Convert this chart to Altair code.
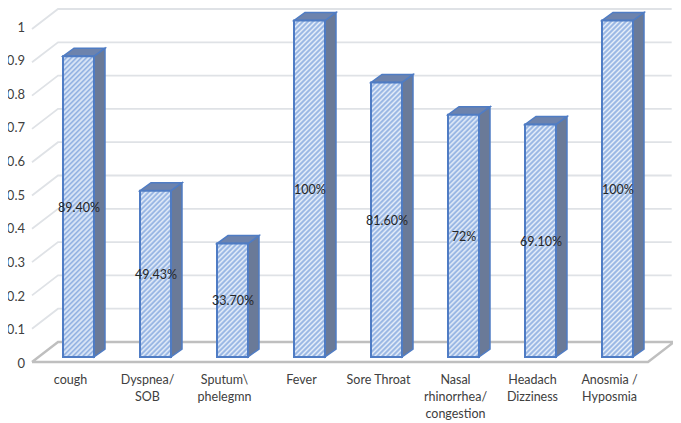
import altair as alt
import pandas as pd

categories = ["cough", "Dyspnea/\nSOB", "Sputum\\\nphelegmn", "Fever", "Sore Throat",
              "Nasal\nrhinorrhea/\ncongestion", "Headach\nDizziness", "Anosmia /\nHyposmia"]
values = [0.894, 0.4943, 0.337, 1.0, 0.816, 0.72, 0.691, 1.0]
labels = ["89.40%", "49.43%", "33.70%", "100%", "81.60%", "72%", "69.10%", "100%"]
ticks = [0, 0.1, 0.2, 0.3, 0.4, 0.5, 0.6, 0.7, 0.8, 0.9, 1]

# geometry of the pseudo-3D view
W, H = 665, 412
STEP = 77.0
X0 = 24.0
UNIT = 336.5
Y0 = 354.0
xdom = [-X0 / STEP, (W - X0) / STEP]
ydom = [(Y0 - H) / UNIT, Y0 / UNIT]
xs = alt.Scale(domain=xdom, nice=False, zero=False)
ys = alt.Scale(domain=ydom, nice=False, zero=False)

FLOOR_DX = 26 / STEP
FLOOR_DY = 20 / UNIT
WALL = 333 / UNIT
N = len(categories)
LIFT = 5 / UNIT
BAR_L = 31 / STEP
BAR_W = 31 / STEP
DEPTH_X = 11 / STEP
DEPTH_Y = 8 / UNIT
TICK_X = -7 / STEP
CAT_Y = -12 / UNIT

grid_rows = []
for t in ticks[1:]:
    yb = FLOOR_DY + WALL * t
    yf = yb - FLOOR_DY
    for k, (x, y) in enumerate([(0, yf), (FLOOR_DX, yb), (N + FLOOR_DX - 0.03, yb)]):
        grid_rows.append(dict(g=f"t{t}", k=k, x=x, y=y))
floor_rows = [dict(g="f", k=k, x=x, y=y) for k, (x, y) in enumerate(
    [(0, 0), (FLOOR_DX, FLOOR_DY), (N + FLOOR_DX, FLOOR_DY), (N, 0), (0, 0)])]

side_rows, top_rows, bar_rows = [], [], []
for i, (c, v, l) in enumerate(zip(categories, values, labels)):
    L = i + BAR_L
    R = L + BAR_W
    base, top = LIFT, LIFT + v
    bar_rows.append(dict(c=c, L=L, R=R, base=base, top=top, mid=base + v / 2,
                         cx=(L + R) / 2 + 0.5 / STEP, label=l, v=v))
    side_rows += [dict(c=c, x=R, y=base, y2=top),
                  dict(c=c, x=R + DEPTH_X, y=base + DEPTH_Y, y2=top + DEPTH_Y)]
    top_rows += [dict(c=c, x=L, y=top, y2=top),
                 dict(c=c, x=L + DEPTH_X, y=top, y2=top + DEPTH_Y),
                 dict(c=c, x=R, y=top, y2=top + DEPTH_Y),
                 dict(c=c, x=R + DEPTH_X, y=top + DEPTH_Y, y2=top + DEPTH_Y)]


def hatch(w, h, period, c1, c2):
    n = int((w + h) / period) + 1
    stops = []
    for j in range(n):
        stops += [alt.GradientStop(offset=j / n, color=c1),
                  alt.GradientStop(offset=(j + 0.5) / n, color=c2)]
    stops.append(alt.GradientStop(offset=1, color=c1))
    k = n * period / (w * w + h * h)
    return alt.LinearGradient(gradient="linear", stops=stops, x1=0, y1=0, x2=k * w, y2=k * h)


BLUE = "#4f7cc4"
X = lambda f="x": alt.X(f"{f}:Q", scale=xs, axis=None)
Y = lambda f="y": alt.Y(f"{f}:Q", scale=ys, axis=None)

grid = alt.Chart(pd.DataFrame(grid_rows)).mark_line(color="#dfe2e6", strokeWidth=1.8).encode(
    x=X(), y=Y(), detail="g:N", order="k:Q")
floor = alt.Chart(pd.DataFrame(floor_rows)).mark_line(color="#bfbfbf", strokeWidth=2.4).encode(
    x=X(), y=Y(), detail="g:N", order="k:Q")

side = alt.Chart(pd.DataFrame(side_rows)).mark_area(fill="#6a7a98", stroke=BLUE, strokeWidth=1.5).encode(
    x=X(), y=Y(), y2="y2:Q", detail="c:N")
topf = alt.Chart(pd.DataFrame(top_rows)).mark_area(fill="#6d83ad", stroke=BLUE, strokeWidth=1.5).encode(
    x=X(), y=Y(), y2="y2:Q", detail="c:N")

df = pd.DataFrame(bar_rows)
fronts = []
for _, r in df.iterrows():
    fronts.append(alt.Chart(df[df.c == r.c]).mark_bar(
        fill=hatch(31, r.v * UNIT, 5, "#8aace0", "#e6eef9"), stroke=BLUE, strokeWidth=2).encode(
        x=X("L"), x2="R:Q", y=Y("base"), y2="top:Q"))

text = alt.Chart(df).mark_text(font="Lato", fontSize=12.5, color="#262626", dy=1).encode(
    x=X("cx"), y=Y("mid"), text="label:N")

tick_df = pd.DataFrame(dict(t=ticks, x=[TICK_X] * len(ticks)))
tick_text = alt.Chart(tick_df).mark_text(font="Lato", fontSize=13, color="#404040", align="right", dy=2).encode(
    x=X(), y=Y("t"), text=alt.Text("t:Q", format="~g"))

cat_df = pd.DataFrame(dict(c=categories, x=[i + 0.5 for i in range(N)], y=[CAT_Y] * N))
cat_text = alt.Chart(cat_df).mark_text(font="Lato", fontSize=12.5, color="#404040", align="center",
                                       baseline="top", lineBreak="\n", lineHeight=17).encode(
    x=X(), y=Y(), text="c:N")

chart = alt.layer(grid, floor, side, topf, *fronts, text, tick_text, cat_text).properties(
    width=W, height=H, padding=0, autosize=alt.AutoSizeParams(type="none")
).configure_view(stroke=None)

chart.save("out.html", embed_options={"renderer": "svg", "actions": False})
